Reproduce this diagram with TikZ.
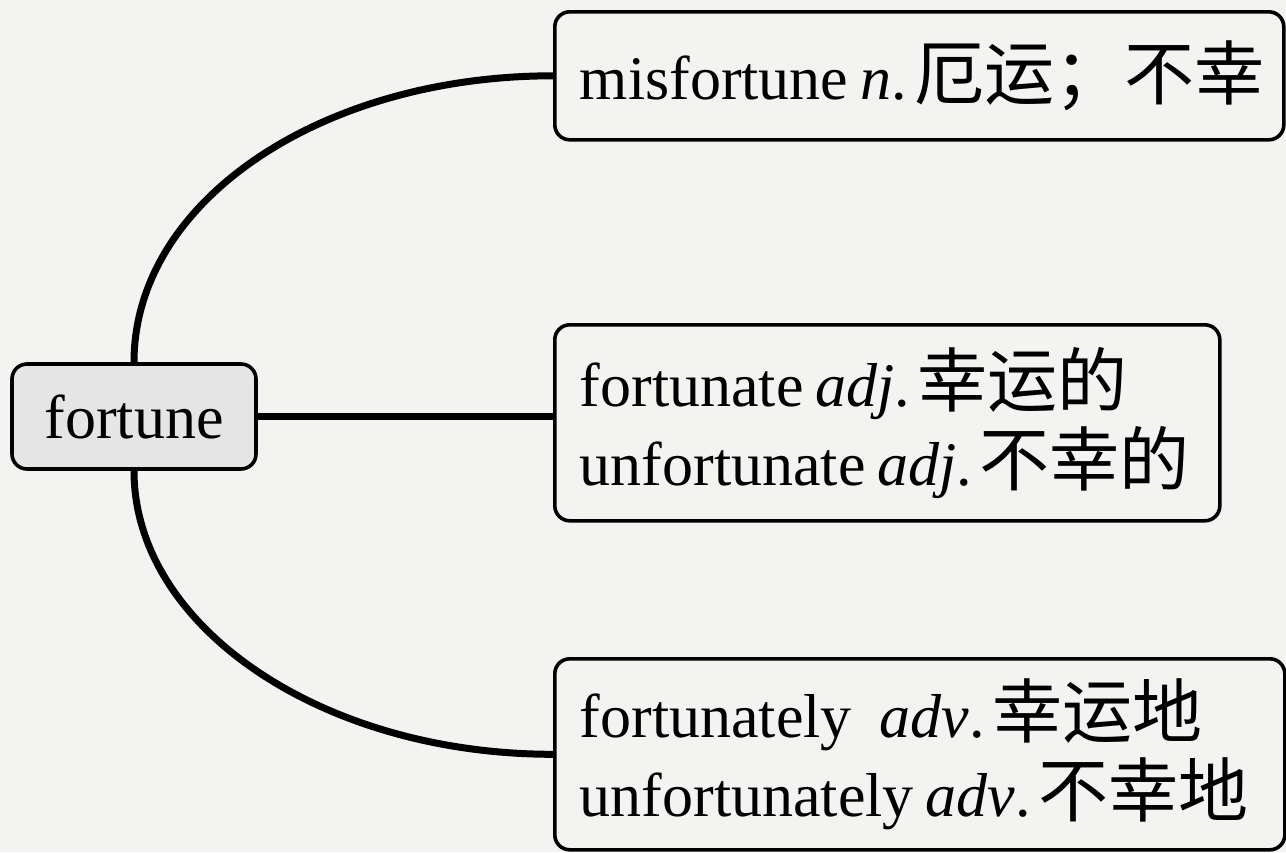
\documentclass[tikz,border=0pt]{standalone}
\usepackage{fontspec}
\setmainfont{Liberation Serif}
\newfontfamily\cjk[Scale=1.13]{Noto Sans CJK SC}
\definecolor{paper}{RGB}{243,243,241}
\definecolor{rootfill}{RGB}{229,229,229}
\newcommand{\zhgap}{\hspace{0.12em}}
\newcommand{\wgap}{\hspace{0.19em}}
\begin{document}
\begin{tikzpicture}[x=0.5pt,y=-0.5pt,
  leaf/.style={draw=black, line width=1.8pt, rounded corners=7.5pt, align=left,
    inner xsep=12.5pt, inner ysep=0pt, anchor=north west,
    font=\fontsize{31}{39.5}\selectfont},
  rootbox/.style={draw=black, line width=1.8pt, rounded corners=7.5pt, fill=rootfill,
    minimum width=122pt, minimum height=52.5pt, inner sep=0pt,
    font=\fontsize{31}{38}\selectfont},
  conn/.style={draw=black, line width=3.5pt}]
\useasboundingbox[fill=paper] (0,0) rectangle (1286,852);

\node[rootbox] (root) at (134,416.5) {fortune};

\node[leaf, text width=339.5pt, minimum height=64pt] (b1) at (553,10)
  {\mbox{misfortune\wgap\textit{n}.\zhgap{\cjk 厄运；不幸}}};
\node[leaf, text width=307.5pt, minimum height=98pt] (b2) at (553,323)
  {\mbox{fortunate\wgap\textit{adj}.\zhgap{\cjk 幸运的}}\\\mbox{unfortunate\wgap\textit{adj}.\zhgap{\cjk 不幸的}}};
\node[leaf, text width=340pt, minimum height=95.5pt] (b3) at (553,657)
  {\mbox{fortunately\hspace{0.45em}\textit{adv}.\zhgap{\cjk 幸运地}}\\\mbox{unfortunately\wgap\textit{adv}.\zhgap{\cjk 不幸地}}};

\draw[conn] (root.north) .. controls +(0,-161) and +(-232,0) .. (b1.west);
\draw[conn] (root.south) .. controls +(0,156) and +(-231,0) .. (b3.west);
\draw[conn] (root.east) -- (root.east -| b2.west);
\end{tikzpicture}
\end{document}
